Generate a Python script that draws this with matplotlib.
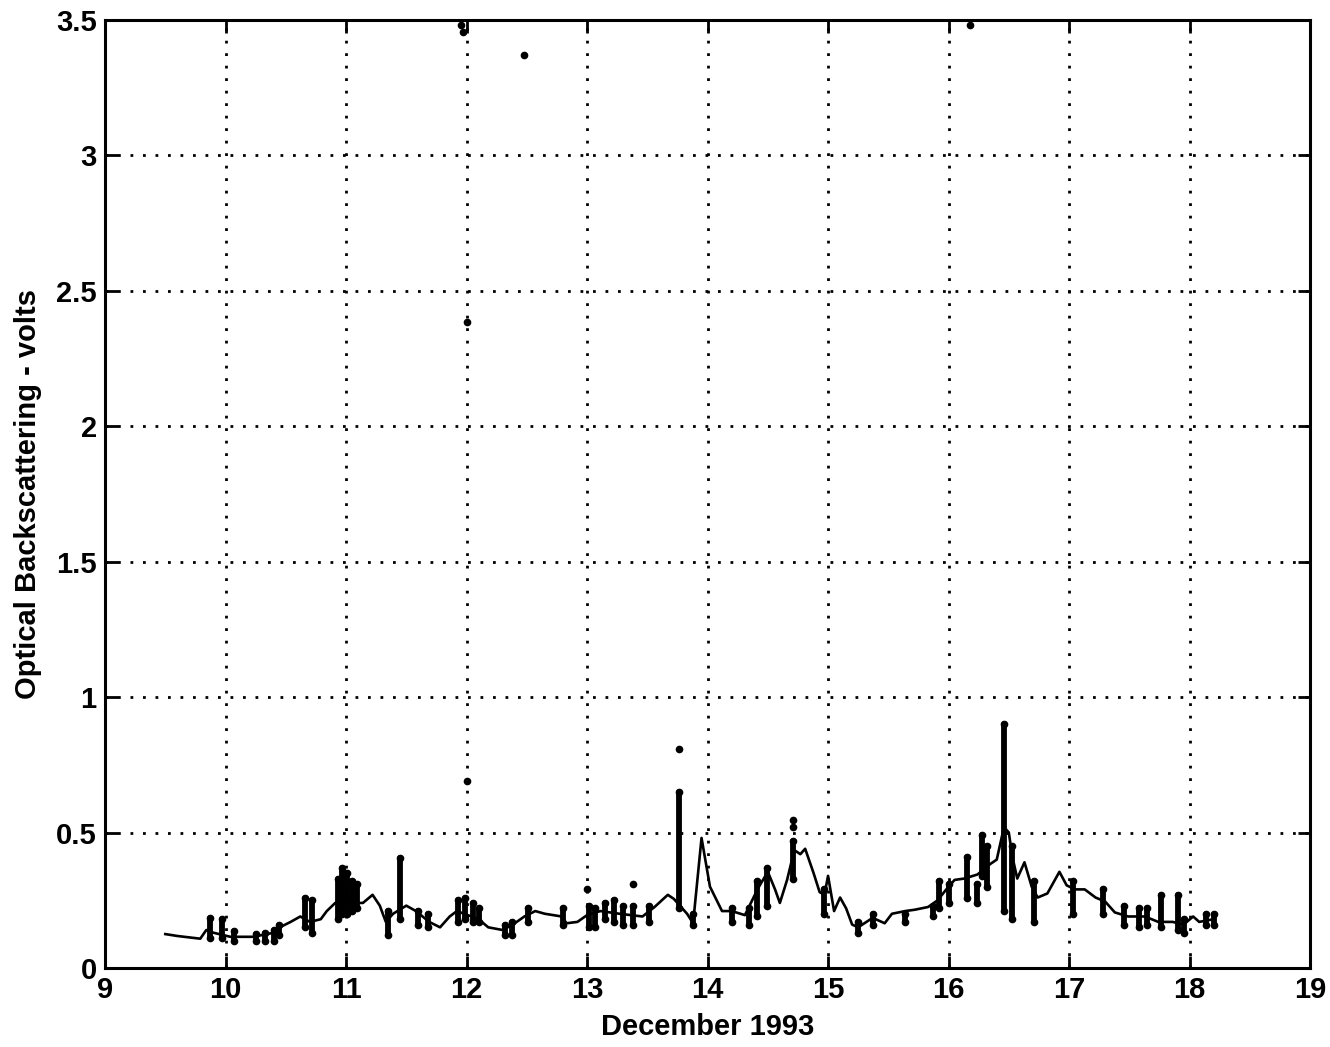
import numpy as np
import matplotlib
matplotlib.use("Agg")
import matplotlib.pyplot as plt

# ---- data ----
line_x = [9.50, 9.60, 9.79, 9.84, 9.90, 10.04, 10.23, 10.40, 10.45, 10.54, 10.62, 10.70,
          10.79, 10.84, 10.91, 11.06, 11.14, 11.22, 11.28, 11.33, 11.39, 11.50, 11.58,
          11.69, 11.78, 11.86, 11.92, 12.10, 12.18, 12.30, 12.40, 12.48, 12.57, 12.65,
          12.79, 12.83, 12.92, 13.00, 13.11, 13.27, 13.46, 13.56, 13.67, 13.72, 13.78,
          13.83, 13.88, 13.95, 14.02, 14.12, 14.20, 14.31, 14.42, 14.50, 14.56, 14.60,
          14.66, 14.72, 14.77, 14.81, 14.88, 14.93, 14.97, 15.00, 15.05, 15.10, 15.15,
          15.20, 15.25, 15.37, 15.47, 15.53, 15.64, 15.72, 15.83, 15.91, 15.99, 16.05,
          16.13, 16.24, 16.35, 16.40, 16.46, 16.50, 16.53, 16.57, 16.63, 16.69, 16.74,
          16.82, 16.92, 16.98, 17.05, 17.13, 17.22, 17.30, 17.38, 17.49, 17.63, 17.74,
          17.86, 17.95, 18.03, 18.08, 18.20]
line_y = [0.125, 0.118, 0.108, 0.140, 0.130, 0.115, 0.115, 0.130, 0.150, 0.170, 0.190, 0.170,
          0.180, 0.210, 0.240, 0.240, 0.240, 0.270, 0.230, 0.170, 0.200, 0.230, 0.210,
          0.170, 0.150, 0.190, 0.210, 0.180, 0.150, 0.140, 0.165, 0.190, 0.210, 0.200,
          0.190, 0.165, 0.170, 0.195, 0.210, 0.200, 0.190, 0.225, 0.270, 0.255, 0.225,
          0.200, 0.165, 0.480, 0.300, 0.210, 0.210, 0.195, 0.295, 0.355, 0.290, 0.240,
          0.325, 0.435, 0.420, 0.440, 0.350, 0.280, 0.270, 0.340, 0.210, 0.260, 0.220,
          0.160, 0.150, 0.185, 0.165, 0.200, 0.210, 0.215, 0.225, 0.250, 0.295, 0.325,
          0.330, 0.345, 0.385, 0.400, 0.520, 0.500, 0.410, 0.330, 0.390, 0.300, 0.260,
          0.275, 0.355, 0.305, 0.290, 0.290, 0.260, 0.245, 0.205, 0.190, 0.190, 0.170,
          0.170, 0.160, 0.190, 0.170, 0.180]

# bursts of sample dots: position, lowest and highest value
burst_x = [9.87, 9.97, 10.07, 10.25, 10.33, 10.40, 10.44, 10.66, 10.72, 10.93, 10.97, 11.01,
           11.05, 11.09, 11.35, 11.45, 11.60, 11.68, 11.93, 11.99, 12.05, 12.10, 12.32,
           12.38, 12.51, 12.80, 13.02, 13.07, 13.15, 13.22, 13.30, 13.38, 13.51, 13.76,
           13.88, 14.20, 14.34, 14.41, 14.49, 14.71, 14.97, 15.25, 15.37, 15.64, 15.87,
           15.92, 16.00, 16.15, 16.24, 16.28, 16.32, 16.46, 16.53, 16.71, 17.03, 17.28,
           17.46, 17.58, 17.65, 17.76, 17.90, 17.95, 18.14, 18.20]
burst_lo = [0.11, 0.11, 0.10, 0.10, 0.10, 0.10, 0.12, 0.15, 0.13, 0.18, 0.20, 0.20,
            0.21, 0.22, 0.12, 0.18, 0.16, 0.15, 0.17, 0.18, 0.17, 0.17, 0.12,
            0.12, 0.17, 0.16, 0.15, 0.15, 0.18, 0.17, 0.16, 0.16, 0.17, 0.22,
            0.16, 0.17, 0.16, 0.19, 0.23, 0.33, 0.20, 0.13, 0.16, 0.17, 0.19,
            0.22, 0.24, 0.26, 0.24, 0.34, 0.30, 0.21, 0.18, 0.17, 0.20, 0.20,
            0.16, 0.15, 0.16, 0.15, 0.14, 0.13, 0.16, 0.16]
burst_hi = [0.185, 0.18, 0.135, 0.125, 0.13, 0.14, 0.16, 0.26, 0.25, 0.33, 0.37, 0.35,
            0.32, 0.31, 0.21, 0.405, 0.21, 0.20, 0.25, 0.26, 0.24, 0.22, 0.16,
            0.17, 0.22, 0.22, 0.23, 0.22, 0.24, 0.25, 0.23, 0.23, 0.23, 0.65,
            0.20, 0.22, 0.22, 0.32, 0.37, 0.47, 0.29, 0.17, 0.20, 0.20, 0.23,
            0.32, 0.31, 0.41, 0.31, 0.49, 0.45, 0.90, 0.45, 0.32, 0.32, 0.29,
            0.23, 0.22, 0.22, 0.27, 0.27, 0.18, 0.20, 0.20]

# isolated points
pt_x = [11.95, 11.97, 12.48, 12.00, 12.00, 13.76, 16.18, 13.00, 13.38, 14.71, 14.71]
pt_y = [3.48, 3.455, 3.37, 2.385, 0.69, 0.81, 3.48, 0.29, 0.31, 0.52, 0.545]

x_ticks = [9, 10, 11, 12, 13, 14, 15, 16, 17, 18, 19]
y_ticks = [0, 0.5, 1, 1.5, 2, 2.5, 3, 3.5]
y_ticklabels = ["0", "0.5", "1", "1.5", "2", "2.5", "3", "3.5"]
x_label = "December 1993"
y_label = "Optical Backscattering - volts"

# ---- figure ----
plt.rcParams['font.family'] = ['Liberation Sans', 'DejaVu Sans']
plt.rcParams['font.weight'] = 'bold'
fig = plt.figure(figsize=(13.3, 10.47), dpi=100)
ax = fig.add_axes([0.079, 0.0755, 0.906, 0.9055])

ax.plot(line_x, line_y, color='black', lw=1.9, zorder=3)
vl = ax.vlines(burst_x, burst_lo, burst_hi, color='black', lw=4.2, zorder=4)
vl.set_capstyle('round')
ax.plot(burst_x, burst_hi, 'o', color='black', ms=4.5, zorder=4)
ax.plot(burst_x, burst_lo, 'o', color='black', ms=4.5, zorder=4)
ax.plot(pt_x, pt_y, 'o', color='black', ms=4.5, zorder=4)

ax.set_xlim(9, 19)
ax.set_ylim(0, 3.5)
ax.set_xticks(x_ticks)
ax.set_yticks(y_ticks)
ax.set_yticklabels(y_ticklabels)
ax.grid(True, color='black', linestyle=(0, (1, 3.5)), lw=2.0)
ax.tick_params(direction='in', length=9, width=2, top=True, right=True,
               labelsize=21, pad=6, colors='black')
for lab in ax.get_xticklabels() + ax.get_yticklabels():
    lab.set_fontweight('bold')
for s in ax.spines.values():
    s.set_linewidth(2.2)
ax.set_xlabel(x_label, fontsize=21, fontweight='bold', labelpad=6)
ax.set_ylabel(y_label, fontsize=21, fontweight='bold', labelpad=10)

fig.savefig("out.png", dpi=100)
